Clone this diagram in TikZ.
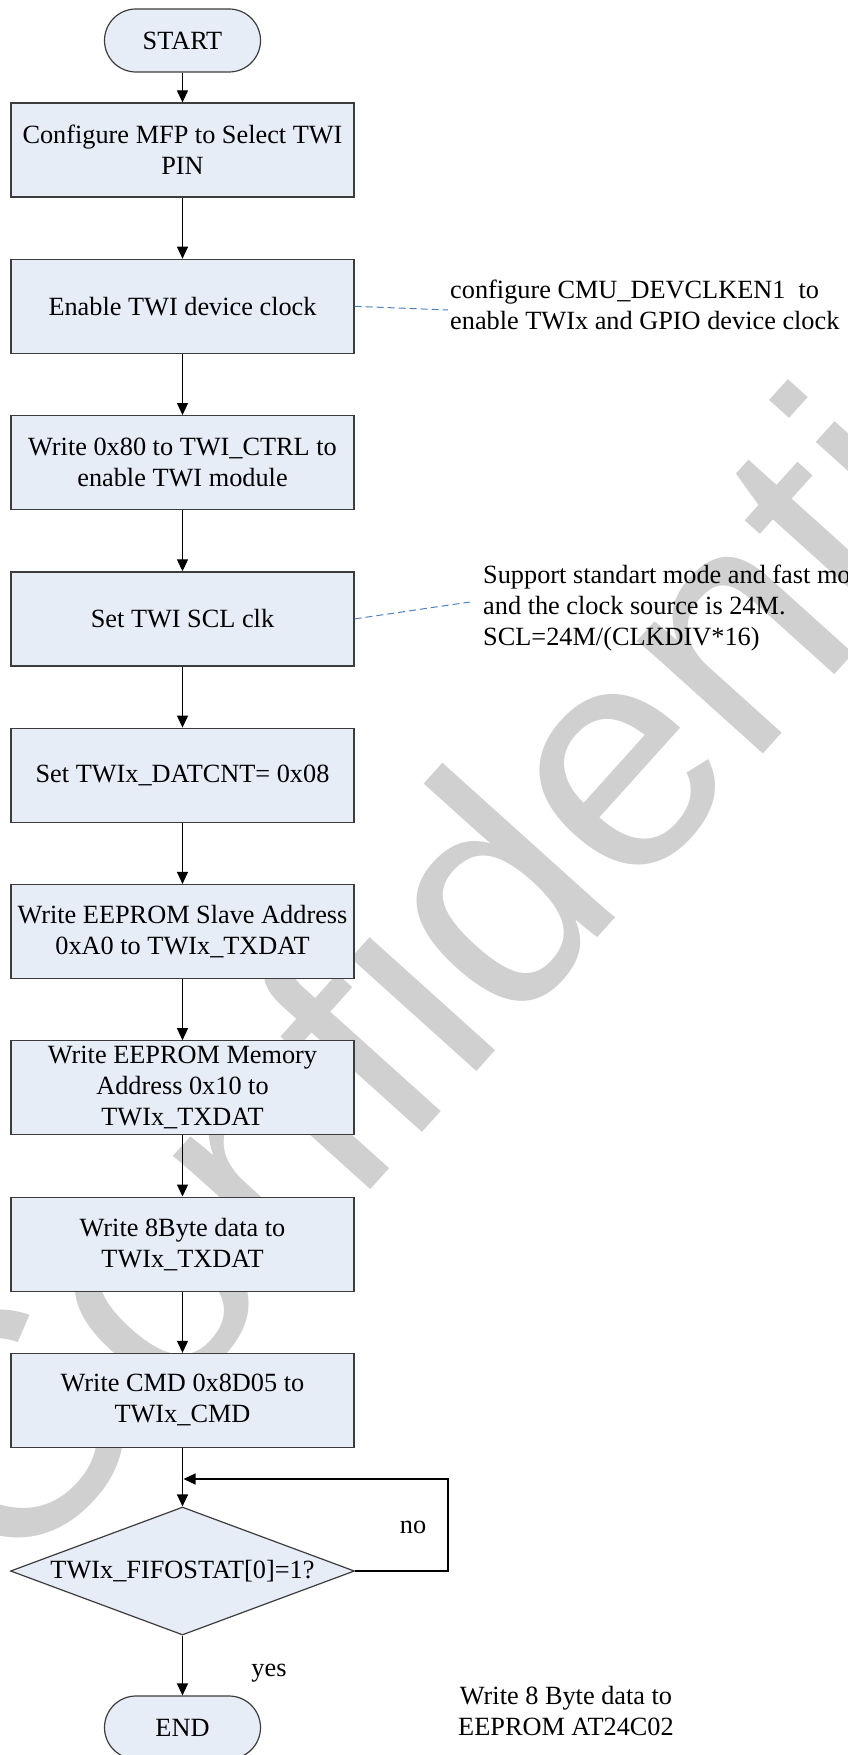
\documentclass[tikz,border=0pt]{standalone}
\usepackage{fontspec}
\setmainfont{Liberation Serif}
\newfontfamily\wmfont{Liberation Sans}
\usetikzlibrary{arrows.meta,shapes.geometric}
\definecolor{boxfill}{RGB}{231,237,247}
\definecolor{boxline}{RGB}{60,60,60}
\definecolor{notelink}{RGB}{79,129,189}
\definecolor{wmgray}{RGB}{208,208,208}
\newcommand{\usc}{\char95\relax}
\newcommand{\mainfs}{\fontsize{26.3}{31}\selectfont}
\begin{document}
\begin{tikzpicture}[x=1pt,y=-1pt,
  every node/.style={font=\mainfs},
  flowbox/.style={draw=boxline, fill=boxfill, line width=1.2pt, minimum width=343pt, minimum height=94pt, inner sep=0pt, align=center},
  term/.style={draw=boxline, fill=boxfill, line width=1.2pt, minimum width=156pt, minimum height=63pt, rounded corners=31.5pt, inner sep=0pt},
  decision/.style={draw=boxline, fill=boxfill, line width=1.2pt, diamond, aspect=2.69, minimum width=344pt, minimum height=128pt, inner sep=0pt},
  flow/.style={draw=black, line width=1.2pt, -{Triangle[length=12pt,width=11pt]}},
  notelinkstyle/.style={draw=notelink, line width=1pt, dash pattern=on 7pt off 4pt},
  notetext/.style={align=left, inner sep=0pt},
  lbl/.style={inner sep=0pt}
]
\useasboundingbox (0,0) rectangle (847,1755);
\clip (0,0) rectangle (847,1755);
% watermark
\node[rotate=48, text=wmgray, inner sep=0pt, font=\wmfont\fontsize{320}{320}\selectfont] (wm) at (491,885) {Confidential};

% flow nodes
\node[term] (start) at (182.5,40.5) {START};
\node[flowbox] (b1) at (182.5,150) {Configure MFP to Select TWI\\PIN};
\node[flowbox] (b2) at (182.5,306.3) {Enable TWI device clock};
\node[flowbox] (b3) at (182.5,462.6) {Write 0x80 to TWI\usc CTRL to\\enable TWI module};
\node[flowbox] (b4) at (182.5,618.9) {Set TWI SCL clk};
\node[flowbox] (b5) at (182.5,775.2) {Set TWIx\usc DATCNT= 0x08};
\node[flowbox] (b6) at (182.5,931.5) {Write EEPROM Slave Address\\0xA0 to TWIx\usc TXDAT};
\node[flowbox] (b7) at (182.5,1087.8) {Write EEPROM Memory\\Address 0x10 to\\TWIx\usc TXDAT};
\node[flowbox] (b8) at (182.5,1244.1) {Write 8Byte data to\\TWIx\usc TXDAT};
\node[flowbox] (b9) at (182.5,1400.4) {Write CMD 0x8D05 to\\TWIx\usc CMD};
\node[decision] (dec) at (182.5,1571) {TWIx\usc FIFOSTAT[0]=1?};
\node[term] (end) at (182.5,1727.5) {END};

% connectors
\draw[flow] (start) -- (b1);
\draw[flow] (b1) -- (b2);
\draw[flow] (b2) -- (b3);
\draw[flow] (b3) -- (b4);
\draw[flow] (b4) -- (b5);
\draw[flow] (b5) -- (b6);
\draw[flow] (b6) -- (b7);
\draw[flow] (b7) -- (b8);
\draw[flow] (b8) -- (b9);
\draw[flow] (b9) -- (dec);
\draw[flow] (dec) -- (end);
\coordinate (loopr) at (448,1571);
\coordinate (loopin) at (183.5,1479);
\draw[flow] (dec.east) -- (loopr) |- (loopin);

\node[lbl, anchor=base] (no) at (413,1533) {no};
\node[lbl, anchor=base] (yes) at (269,1676) {yes};

% notes (base anchor = baseline of the last line)
\node[notetext, anchor=base west] (n1) at (450,329) {configure CMU\usc DEVCLKEN1\ \ to\\enable TWIx and GPIO device clock};
\coordinate (n1end) at (448,310);
\draw[notelinkstyle] (b2.east) -- (n1end);

\node[notetext, anchor=base west] (n2) at (483,645) {Support standart mode and fast mode\\and the clock source is 24M.\\SCL=24M/(CLKDIV*16)};
\coordinate (n2end) at (470,602);
\draw[notelinkstyle] (b4.east) -- (n2end);

\node[align=center, inner sep=0pt, anchor=base] (n3) at (566,1735) {Write 8 Byte data to\\EEPROM AT24C02};
\end{tikzpicture}
\end{document}
